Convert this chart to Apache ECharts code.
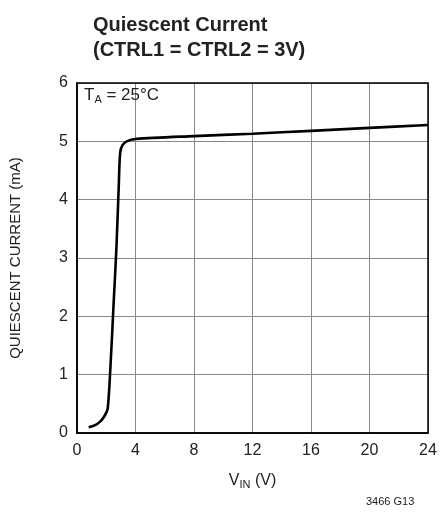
<!DOCTYPE html>
<html><head><meta charset="utf-8">
<script src="https://cdn.jsdelivr.net/npm/echarts@6/dist/echarts.min.js"></script>
<style>html,body{margin:0;padding:0;background:#fff}#c{width:440px;height:520px}</style>
</head><body><div id="c"></div>
<script>
var vin = [0.8, 1.2, 1.6, 1.9, 2.1, 2.3, 2.5, 2.7, 2.85, 2.95, 3.1, 3.4, 4, 8, 12, 16, 20, 24];
var iq  = [0.1, 0.13, 0.2, 0.3, 0.42, 1.2, 2.2, 3.2, 4.2, 4.8, 4.93, 5.0, 5.04, 5.09, 5.13, 5.18, 5.23, 5.28];
var xTicks = [0, 4, 8, 12, 16, 20, 24];
var yTicks = [0, 1, 2, 3, 4, 5, 6];
var font = '"Liberation Sans Narrow", "Liberation Sans", Arial, sans-serif';
var chart = echarts.init(document.getElementById('c'));
chart.setOption({
  animation: false,
  title: {
    text: 'Quiescent Current\n(CTRL1 = CTRL2 = 3V)',
    left: 88, top: 8,
    textStyle: {fontFamily: font, fontWeight: 'bold', fontSize: 20, lineHeight: 25, color: '#222'}
  },
  grid: {left: 77, right: 12, top: 83, bottom: 87},
  xAxis: {
    type: 'value', min: 0, max: 24, interval: 4,
    name: 'V{s|IN} (V)', nameLocation: 'middle', nameGap: 38,
    nameTextStyle: {fontFamily: font, fontSize: 16, color: '#222',
      rich: {s: {fontFamily: font, fontSize: 11, color: '#222', verticalAlign: 'bottom', padding: [8, 0, 0, 0]}}},
    axisLine: {show: true, onZero: false, lineStyle: {color: '#000', width: 1.5}},
    axisTick: {show: false},
    axisLabel: {fontFamily: font, fontSize: 16, color: '#222', margin: 10,
      formatter: function (v) { return xTicks.indexOf(v) >= 0 ? String(v) : ''; }},
    splitLine: {show: true, lineStyle: {color: '#888', width: 1}}
  },
  yAxis: {
    type: 'value', min: 0, max: 6, interval: 1,
    name: 'QUIESCENT CURRENT (mA)', nameLocation: 'middle', nameGap: 54, nameRotate: 90,
    nameTextStyle: {fontFamily: font, fontSize: 15, color: '#222'},
    axisLine: {show: true, onZero: false, lineStyle: {color: '#000', width: 1.5}},
    axisTick: {show: false},
    axisLabel: {fontFamily: font, fontSize: 16, color: '#222', margin: 9,
      formatter: function (v) { return yTicks.indexOf(v) >= 0 ? String(v) : ''; }},
    splitLine: {show: true, lineStyle: {color: '#888', width: 1}}
  },
  graphic: [
    {type: 'rect', shape: {x: 77, y: 83, width: 351, height: 350}, style: {fill: 'none', stroke: '#000', lineWidth: 1.5}, silent: true, z: 10},
    {type: 'text', left: 84, top: 87, z: 11, style: {
      text: 'T{s|A} = 25°C', fill: '#222', font: '17px ' + font,
      rich: {s: {fontSize: 11, fontFamily: font, fill: '#222', verticalAlign: 'bottom', padding: [8, 0, 0, 0]}}}},
    {type: 'text', left: 366, top: 496, style: {text: '3466 G13', fill: '#222', font: '11px ' + font}}
  ],
  series: [{
    type: 'line', data: vin.map(function (v, i) { return [v, iq[i]]; }),
    smooth: 0.3, showSymbol: false, lineStyle: {color: '#000', width: 2.6}, z: 5
  }]
});
</script></body></html>
